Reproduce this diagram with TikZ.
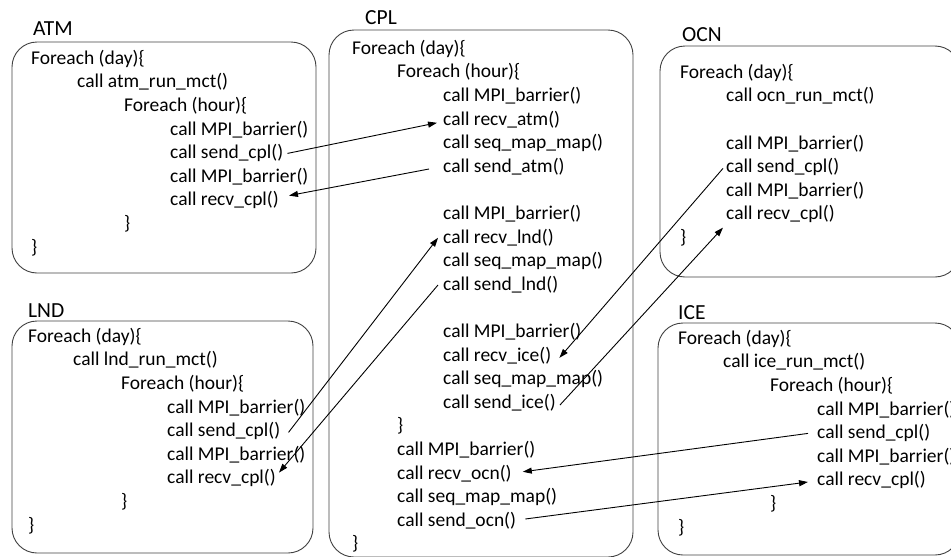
\documentclass[tikz,border=0pt]{standalone}
\usepackage{fontspec}
\setmainfont{Carlito}
\usetikzlibrary{arrows.meta,calc}

\newcommand{\codeln}[4]{\node[codeline] (#1) at (#2,#3) {#4};}

\begin{document}
\begin{tikzpicture}[x=1pt,y=-1pt,
  codeline/.style={anchor=west, inner sep=0pt, text height=16.4pt, text depth=4pt,
                   font=\fontsize{19.5}{23}\selectfont},
  boxtitle/.style={anchor=west, inner sep=0pt, text height=13.8pt, text depth=0pt,
                   font=\fontsize{21.5}{26}\selectfont},
  procbox/.style={draw=black!75, line width=0.9pt, rounded corners=25pt},
  msg/.style={draw=black, line width=0.9pt, -{Triangle[length=9pt,width=6pt]}}]

\useasboundingbox (0,0) rectangle (951,557);
\clip (0,0) rectangle (951,557);

% ---------- process boxes ----------
\draw[procbox] (12,42)  rectangle (316,273);   % ATM
\draw[procbox] (12,321) rectangle (313,553);   % LND
\draw[procbox] (329,30) rectangle (633,557);   % CPL
\draw[procbox] (660,46) rectangle (960,277);   % OCN
\draw[procbox] (658,323) rectangle (960,555);  % ICE

% ---------- titles ----------
\node[boxtitle] (tatm) at (33,29)  {ATM};
\node[boxtitle] (tcpl) at (365,18) {CPL};
\node[boxtitle] (tocn) at (682,35) {OCN};
\node[boxtitle] (tlnd) at (28,311) {LND};
\node[boxtitle] (tice) at (678,313) {ICE};

% ---------- ATM ----------
\codeln{atma}{31}{58}{Foreach (day)\{}
\codeln{atmb}{77}{81.6}{call atm\_run\_mct()}
\codeln{atmc}{124}{105.2}{Foreach (hour)\{}
\codeln{atmd}{170}{128.8}{call MPI\_barrier()}
\codeln{atmsend}{170}{152.4}{call send\_cpl()}
\codeln{atmf}{170}{176}{call MPI\_barrier()}
\codeln{atmrecv}{170}{199.6}{call recv\_cpl()}
\codeln{atmh}{124}{223.2}{\}}
\codeln{atmi}{31}{246.8}{\}}

% ---------- LND ----------
\codeln{lnda}{28}{336}{Foreach (day)\{}
\codeln{lndb}{73}{359.6}{call lnd\_run\_mct()}
\codeln{lndc}{121}{383.2}{Foreach (hour)\{}
\codeln{lndd}{167}{406.8}{call MPI\_barrier()}
\codeln{lndsend}{167}{430.4}{call send\_cpl()}
\codeln{lndf}{167}{454}{call MPI\_barrier()}
\codeln{lndrecv}{167}{477.6}{call recv\_cpl()}
\codeln{lndh}{121}{501.2}{\}}
\codeln{lndi}{28}{524.8}{\}}

% ---------- CPL ----------
\codeln{cpla}{352}{48}{Foreach (day)\{}
\codeln{cplb}{397}{71.6}{Foreach (hour)\{}
\codeln{cplc}{443}{95.2}{call MPI\_barrier()}
\codeln{cplrecvatm}{443}{118.8}{call recv\_atm()}
\codeln{cple}{443}{142.4}{call seq\_map\_map()}
\codeln{cplsendatm}{443}{166}{call send\_atm()}
\codeln{cplg}{443}{213.2}{call MPI\_barrier()}
\codeln{cplrecvlnd}{443}{236.8}{call recv\_lnd()}
\codeln{cpli}{443}{260.4}{call seq\_map\_map()}
\codeln{cplsendlnd}{443}{284}{call send\_lnd()}
\codeln{cplk}{443}{331.2}{call MPI\_barrier()}
\codeln{cplrecvice}{443}{354.8}{call recv\_ice()}
\codeln{cplm}{443}{378.4}{call seq\_map\_map()}
\codeln{cplsendice}{443}{402}{call send\_ice()}
\codeln{cplo}{397}{425.6}{\}}
\codeln{cplp}{397}{449.2}{call MPI\_barrier()}
\codeln{cplrecvocn}{397}{472.8}{call recv\_ocn()}
\codeln{cplr}{397}{496.4}{call seq\_map\_map()}
\codeln{cplsendocn}{397}{520}{call send\_ocn()}
\codeln{cplt}{352}{543.6}{\}}

% ---------- OCN ----------
\codeln{ocna}{680}{72}{Foreach (day)\{}
\codeln{ocnb}{726}{95.6}{call ocn\_run\_mct()}
\codeln{ocnc}{726}{142.8}{call MPI\_barrier()}
\codeln{ocnsend}{726}{166.4}{call send\_cpl()}
\codeln{ocne}{726}{190}{call MPI\_barrier()}
\codeln{ocnrecv}{726}{213.6}{call recv\_cpl()}
\codeln{ocng}{680}{237.2}{\}}

% ---------- ICE ----------
\codeln{icea}{678}{338}{Foreach (day)\{}
\codeln{iceb}{723}{361.6}{call ice\_run\_mct()}
\codeln{icec}{770}{385.2}{Foreach (hour)\{}
\codeln{iced}{817}{408.8}{call MPI\_barrier()}
\codeln{icesend}{817}{432.4}{call send\_cpl()}
\codeln{icef}{817}{456}{call MPI\_barrier()}
\codeln{icerecv}{817}{479.6}{call recv\_cpl()}
\codeln{iceh}{770}{503.2}{\}}
\codeln{icei}{678}{526.8}{\}}

% ---------- messages ----------
\draw[msg] ($(atmsend.east)+(4,1)$)     -- ($(cplrecvatm.west)+(-6,4)$);
\draw[msg] ($(cplsendatm.west)+(-14,3)$) -- ($(atmrecv.east)+(10,-4)$);
\draw[msg] ($(lndsend.east)+(8,2)$)     -- ($(cplrecvlnd.west)+(-5,1)$);
\draw[msg] ($(cplsendlnd.west)+(-5,1)$) -- ($(lndrecv.east)+(3,-5)$);
\draw[msg] ($(ocnsend.west)+(-3,2)$)    -- ($(cplrecvice.east)+(8,3)$);
\draw[msg] ($(cplsendice.east)+(4,3)$)  -- ($(ocnrecv.west)+(-3,14)$);
\draw[msg] ($(icesend.west)+(-9,1)$)    -- ($(cplrecvocn.east)+(11,-1)$);
\draw[msg] ($(cplsendocn.east)+(9,-1)$) -- ($(icerecv.west)+(-9,2.4)$);

\end{tikzpicture}
\end{document}
